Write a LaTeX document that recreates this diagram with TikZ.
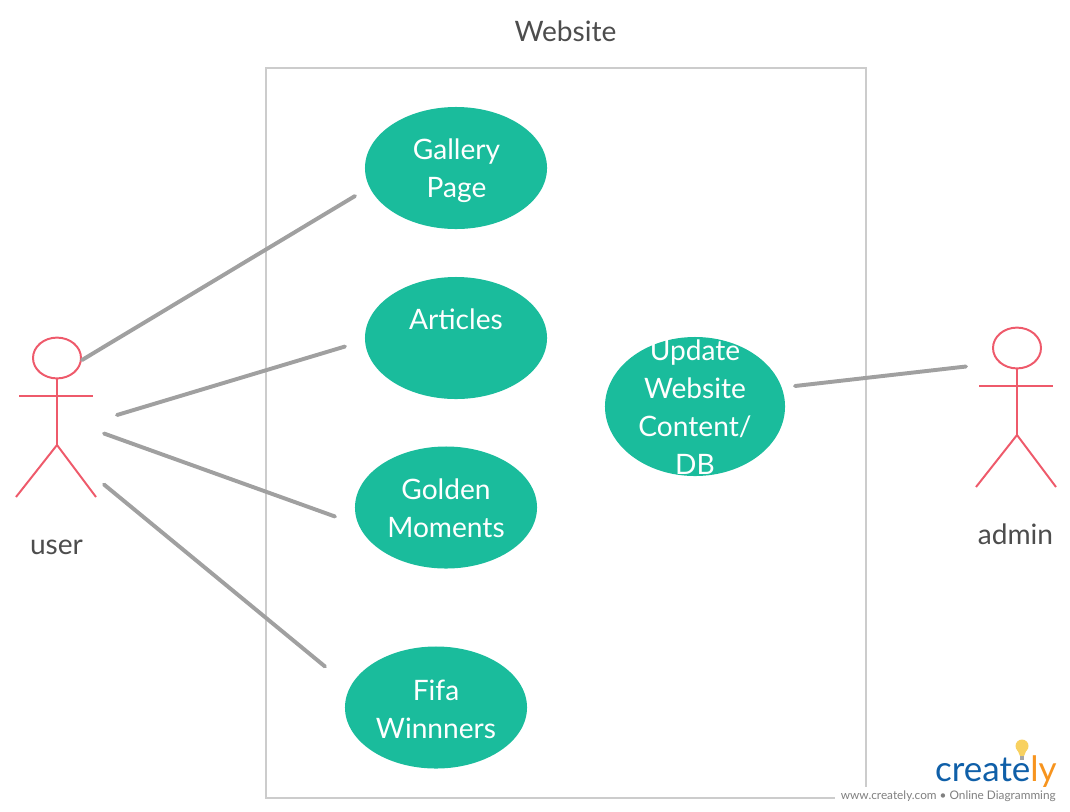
\documentclass[tikz,border=0pt]{standalone}
\usepackage{fontspec}
\setmainfont{Lato}
\usetikzlibrary{shapes.geometric}
\definecolor{caseteal}{HTML}{1ABC9C}
\definecolor{actorred}{HTML}{EE5A6B}
\definecolor{linkgray}{HTML}{A0A0A0}
\definecolor{framegray}{HTML}{CCCCCC}
\definecolor{textgray}{HTML}{4D4D4D}
\definecolor{logoblue}{HTML}{0F5FA8}
\definecolor{logoorange}{HTML}{F7941E}
\definecolor{bulbyellow}{HTML}{F8D160}
\newcommand{\labelsize}{\fontsize{20}{27}\selectfont}
\tikzset{
	usecase/.style={ellipse,fill=caseteal,inner sep=0,minimum width=4.55cm,minimum height=3.05cm},
	casetext/.style={text=white,align=center,inner sep=0,font=\labelsize},
	link/.style={linkgray,line width=2.8pt,line cap=round},
	actorline/.style={actorred,line width=1.4pt},
	caption/.style={text=textgray,inner sep=0,font=\labelsize},
	pics/actor/.style={code={
		\node [ellipse,draw=actorred,line width=1.4pt,inner sep=0,minimum width=1.2cm,minimum height=1.02cm] (-head) at (0,0) {};
		\draw [actorline] (-head.south) -- (0,87) coordinate (-hip);
		\draw [actorline] (-38,38) -- (36,38);
		\draw [actorline] (-41,139) -- (-hip) -- (39,139);
	}}
}
\begin{document}
\begin{tikzpicture}[x=0.025cm,y=-0.025cm]
	\useasboundingbox (0,0) rectangle (1070,811);
	% Frame
	\node [caption] (title) at (565.5,31) {Website};
	\node [draw=framegray,line width=1.4pt,inner sep=0,minimum width=15cm,minimum height=18.25cm] (frame) at (566,433) {};
	% Use cases
	\node [usecase] (gallery) at (456,168) {};
	\node [casetext] (gallerytext) at (456.5,171) {Gallery\\Page};
	\node [usecase] (articles) at (456,338) {};
	\node [casetext] (articlestext) at (articles) {Articles\\\mbox{}};
	\node [usecase] (golden) at (446,507.5) {};
	\node [casetext] (goldentext) at (446,508.5) {Golden\\Moments};
	\node [usecase] (fifa) at (436,707.5) {};
	\node [casetext] (fifatext) at (436,709) {Fifa\\Winnners};
	\node [usecase,minimum width=4.5cm,minimum height=3.475cm] (update) at (695,406.5) {};
	\node [casetext] (updatetext) at (695,407.5) {Update\\Website\\Content/\\DB};
	% Actors
	\pic (user) at (57,358) {actor};
	\node [caption] (userlabel) at (56.5,547) {user};
	\pic (admin) at (1017,348) {actor};
	\node [caption] (adminlabel) at (1015.5,534) {admin};
	% Connectors
	\coordinate (usera) at (82,360);
	\coordinate (userb) at (117,415);
	\coordinate (userc) at (104,433.5);
	\coordinate (userd) at (104,484.5);
	\coordinate (galleryend) at (355,196);
	\coordinate (articlesend) at (345,346.5);
	\coordinate (goldenend) at (335,516.5);
	\coordinate (fifaend) at (325,666.5);
	\coordinate (updateend) at (795,386);
	\coordinate (adminend) at (966,366.5);
	\draw [link] (usera) -- (galleryend);
	\draw [link] (userb) -- (articlesend);
	\draw [link] (userc) -- (goldenend);
	\draw [link] (userd) -- (fifaend);
	\draw [link] (updateend) -- (adminend);
	% Logo
	\fill [white] (835,787) rectangle (1070,811);
	\fill [bulbyellow] (1022,746) ellipse [x radius=6.5,y radius=6.5];
	\fill [bulbyellow] (1017,749) -- (1027,749) -- (1024,756) -- (1020,756) -- cycle;
	\fill [gray!70] (1020,756) rectangle (1024,760);
	\node [anchor=base east,inner sep=0,font=\fontsize{24.9}{30}\selectfont] (logo) at (1057,781) {\textcolor{logoblue}{create}\textcolor{logoorange}{ly}};
	\node [anchor=base east,inner sep=0,text=gray,font=\fontsize{8.4}{10}\selectfont] (site) at (1056,799) {www.creately.com • Online Diagramming};
\end{tikzpicture}
\end{document}
